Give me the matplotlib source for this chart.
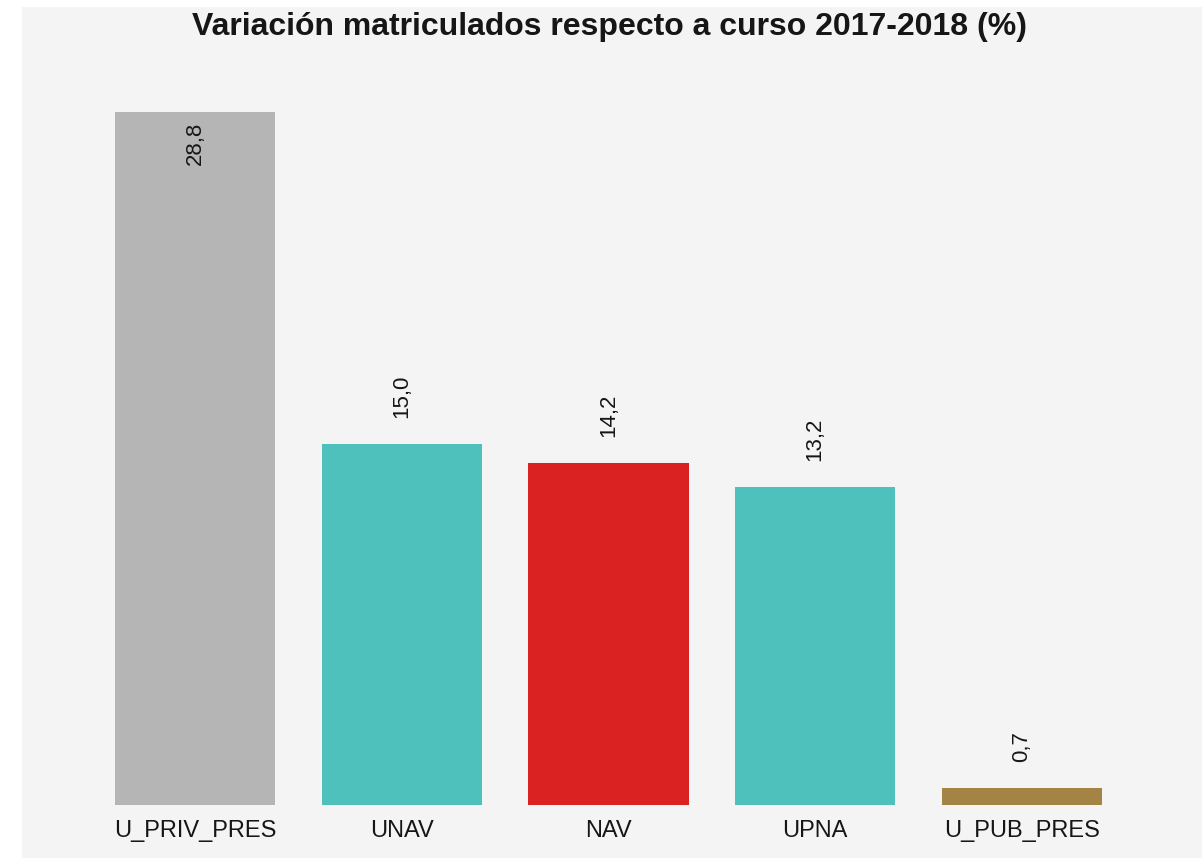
import matplotlib
matplotlib.use("Agg")
import matplotlib.pyplot as plt
from matplotlib.patches import Rectangle

categories = ["U_PRIV_PRES", "UNAV", "NAV", "UPNA", "U_PUB_PRES"]
values = [28.8, 15.0, 14.2, 13.2, 0.7]
colors = ["#b5b5b5", "#4fc1bd", "#db2222", "#4fc1bd", "#a48445"]
title = "Variación matriculados respecto a curso 2017-2018 (%)"

plt.rcParams["font.family"] = ["Liberation Sans", "DejaVu Sans"]

W, H = 1202, 858
fig = plt.figure(figsize=(W / 100, H / 100), dpi=100, facecolor="white")

# panel background
fig.patches.append(Rectangle((22 / W, 0), 1 - 22 / W, 1 - 7 / H,
                             transform=fig.transFigure, facecolor="#f4f4f4",
                             edgecolor="none", zorder=-10))

left, right, bottom, top = 90, 1127, 805, 59
ax = fig.add_axes([left / W, (H - bottom) / H, (right - left) / W, (bottom - top) / H])
ax.set_zorder(5)
ax.patch.set_alpha(0)
for s in ax.spines.values():
    s.set_visible(False)

x = list(range(len(categories)))
ax.bar(x, values, width=0.774, color=colors, zorder=2)
ax.set_xlim(-0.508, 4.508)
ylim_top = 31
ax.set_ylim(0, ylim_top)
ax.set_xticks(x)
ax.set_xticklabels(categories, fontsize=17, color="#161616")
ax.tick_params(axis="x", length=0, pad=10.5)
ax.set_yticks([])

for xi, v in zip(x, values):
    label = f"{v:.1f}".replace(".", ",")
    if v > 27:
        ax.annotate(label, (xi, v), xytext=(0, -7), textcoords="offset points",
                    rotation=90, ha="center", va="top", fontsize=16, color="#161616")
    else:
        ax.annotate(label, (xi, v), xytext=(0, 18.7), textcoords="offset points",
                    rotation=90, ha="center", va="bottom", fontsize=16, color="#161616")

fig.text(610 / W, 1 - 35 / H, title, ha="center", va="baseline",
         fontsize=23, fontweight="bold", color="#161616", zorder=6)

fig.savefig("out.png", dpi=100, facecolor="white")
